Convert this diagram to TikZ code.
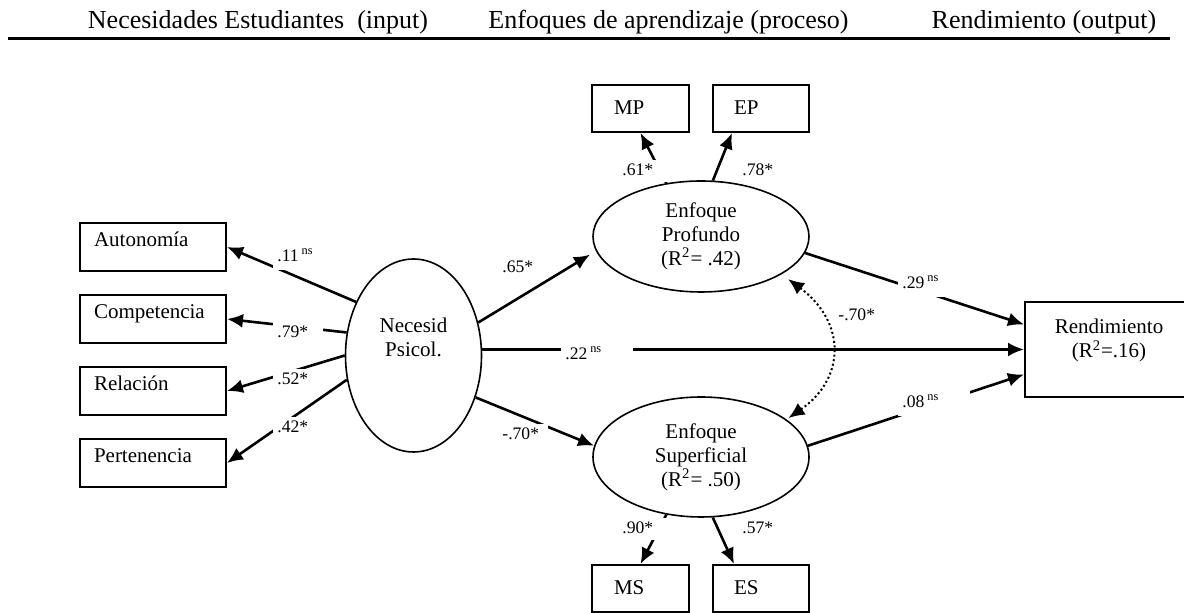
\documentclass[tikz,border=0pt]{standalone}
\usepackage{fontspec}
\setmainfont{Liberation Serif}
\usetikzlibrary{arrows.meta}
\usetikzlibrary{shapes}

\begin{document}
\begin{tikzpicture}[x = 0.5pt, y = -0.5pt]
	\tikzstyle{headStyle} = [font = \fontsize{13}{15}\selectfont, anchor = base, inner sep = 0pt]
	\tikzstyle{itemStyle} = [draw, line width = 1pt, inner ysep = 0pt, align = left, font = \fontsize{10.5}{12}\selectfont]
	\tikzstyle{needStyle} = [itemStyle, text width = 59pt, inner xsep = 7pt, text height = 12pt, text depth = 12pt]
	\tikzstyle{scaleStyle} = [itemStyle, text width = 26.5pt, inner xsep = 11pt, text height = 15pt, text depth = 8.5pt]
	\tikzstyle{latentStyle} = [shape = ellipse, draw, line width = 0.8pt, inner sep = 0pt, align = center, font = \fontsize{10.5}{12}\selectfont]
	\tikzstyle{pathStyle} = [line width = 1.3pt, arrows = {-Latex[length = 8pt, width = 7pt]}]
	\tikzstyle{covStyle} = [line width = 1pt, dash pattern = on 1pt off 1.3pt, arrows = {Latex[length = 8pt, width = 7pt]-Latex[length = 8pt, width = 7pt]}]
	\tikzstyle{coefStyle} = [fill = white, anchor = west, align = left, inner xsep = 2pt, inner ysep = 1.5pt, text width = 21pt, text height = 6.5pt, text depth = 1.5pt, font = \fontsize{8.8}{10}\selectfont]
	\tikzstyle{nsStyle} = [coefStyle, text width = 32pt, inner ysep = 2.5pt]
	\useasboundingbox (0, 0) rectangle (1184, 613);
	% header
	\node[headStyle] (hIn) at (258, 29) {Necesidades Estudiantes~ (input)};
	\node[headStyle] (hProc) at (668.5, 29) {Enfoques de aprendizaje (proceso)};
	\node[headStyle] (hOut) at (1044, 29) {Rendimiento (output)};
	\draw[line width = 1.5pt] (8, 39) -- (1170, 39);
	% variables
	\node[needStyle] (aut) at (153, 247) {Autonomía};
	\node[needStyle] (comp) at (153, 319) {Competencia};
	\node[needStyle] (rel) at (153, 391) {Relación};
	\node[needStyle] (pert) at (153, 463) {Pertenencia};
	\node[latentStyle, minimum width = 68pt, minimum height = 96.5pt, text height = 20pt, text depth = 18.5pt] (nec) at (413.5, 355.5) {Necesid\\Psicol.};
	\node[latentStyle, minimum width = 108pt, minimum height = 55.5pt] (prof) at (701, 236.5) {Enfoque\\Profundo\\(R\textsuperscript{2}= .42)};
	\node[latentStyle, minimum width = 108pt, minimum height = 60pt] (sup) at (701, 457) {Enfoque\\Superficial\\(R\textsuperscript{2}= .50)};
	\node[scaleStyle] (mp) at (640.5, 108.5) {MP};
	\node[scaleStyle, text width = 27pt, inner xsep = 10.5pt] (ep) at (761, 108.5) {EP};
	\node[scaleStyle] (ms) at (640.5, 588.5) {MS};
	\node[scaleStyle, text width = 27pt, inner xsep = 10.5pt] (es) at (761, 588.5) {ES};
	\node[itemStyle, align = center, text width = 84pt, inner xsep = 0pt, text height = 16pt, text depth = 31.5pt] (rend) at (1109, 349.5) {Rendimiento\\(R\textsuperscript{2}=.16)};
	% paths
	\draw[pathStyle] (nec.137) -- (aut.east);
	\draw[pathStyle] (nec.161) -- (comp.east);
	\draw[pathStyle] (nec.180) -- (rel.east);
	\draw[pathStyle] (nec.200) -- (pert.east);
	\draw[pathStyle] (nec.27) -- ([xshift = -4pt]prof.190);
	\draw[pathStyle] (nec.east |- rend.west) -- (rend.west);
	\draw[pathStyle] (nec.-34) -- (sup.174);
	\draw[pathStyle] (prof.-9) -- ([yshift = 12.5pt]rend.west);
	\draw[pathStyle] (sup.6) -- ([yshift = -12.5pt]rend.west);
	\draw[pathStyle] (prof.123) -- (mp.south);
	\draw[pathStyle] (prof.78) -- ([xshift = 10pt]ep.south west);
	\draw[pathStyle] (sup.-121) -- (ms.north);
	\draw[pathStyle] (sup.-79) -- ([xshift = 11pt]es.north west);
	\draw[covStyle] ([shift = {(4pt, -2pt)}]prof.-26) .. controls (846, 322) and (846, 378) .. ([xshift = 2pt]sup.25);
	% coefficients
	\node[nsStyle] (c1) at (273, 257) {.11\,\textsuperscript{ns}};
	\node[coefStyle] (c2) at (273, 333) {.79*};
	\node[coefStyle] (c3) at (273, 380) {.52*};
	\node[coefStyle] (c4) at (273, 428) {.42*};
	\node[coefStyle] (c5) at (498, 268) {.65*};
	\node[nsStyle] (c6) at (561, 355) {.22\,\textsuperscript{ns}};
	\node[coefStyle] (c7) at (498, 435) {-.70*};
	\node[nsStyle] (c8) at (898, 284) {.29\,\textsuperscript{ns}};
	\node[nsStyle] (c9) at (898, 403) {.08\,\textsuperscript{ns}};
	\node[coefStyle] (c10) at (834, 316) {-.70*};
	\node[coefStyle] (c11) at (618, 171) {.61*};
	\node[coefStyle] (c12) at (738, 171) {.78*};
	\node[coefStyle] (c13) at (618, 529) {.90*};
	\node[coefStyle] (c14) at (738, 529) {.57*};
\end{tikzpicture}
\end{document}
